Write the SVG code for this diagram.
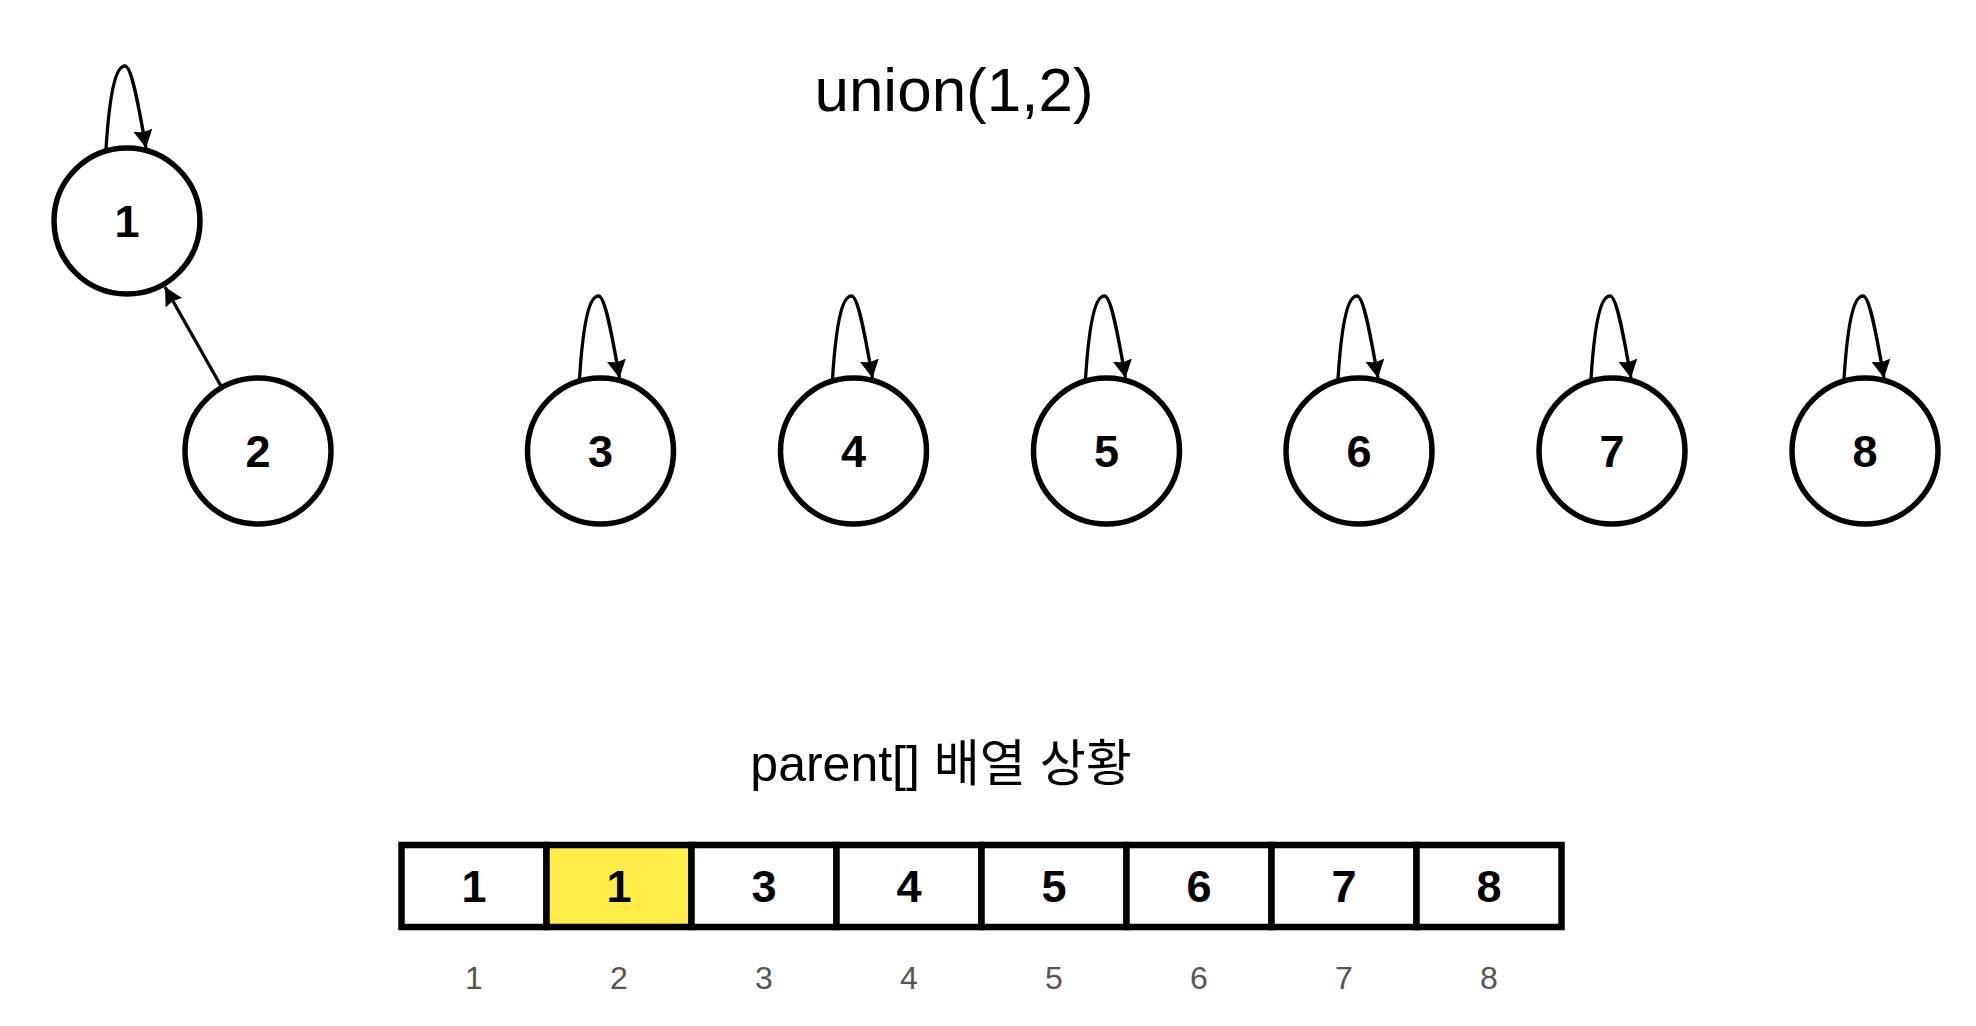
<svg xmlns="http://www.w3.org/2000/svg" width="1976" height="1026" viewBox="0 0 1976 1026">
<style>
.node circle{fill:#fff;stroke:#000;stroke-width:5.5}
.nlabel{font-family:"Liberation Sans",Arial,sans-serif;font-weight:bold;font-size:45px;text-anchor:middle;fill:#000}
.edge{fill:none;stroke:#000;stroke-width:3.3;marker-end:url(#arrow)}
.cell rect{fill:#fff;stroke:#000;stroke-width:6.5}
.cell rect.hl{fill:#ffed4a}
.idx{font-family:"Liberation Sans",Arial,sans-serif;font-size:32px;text-anchor:middle;fill:#555}
.title{font-family:"Liberation Sans",Arial,"Noto Sans CJK KR",sans-serif;font-size:62px;text-anchor:middle;fill:#000}
.sub{font-family:"Liberation Sans",Arial,"Noto Sans CJK KR",sans-serif;font-size:50px;text-anchor:middle;fill:#000}
</style>
<defs>
<marker id="arrow" markerUnits="userSpaceOnUse" markerWidth="22" markerHeight="22" refX="18" refY="9.5" orient="auto" viewBox="0 0 22 22">
<path d="M0,0 L18,9.5 L0,19 L2,9.5 Z" fill="#000"/>
</marker>
<path id="loop" d="M-21,-72 C-17,-135 -10,-155 -2,-155 C4,-155 10,-125 19,-73"/>
</defs>
<rect width="1976" height="1026" fill="#fff"/>
<text class="title" x="954" y="111">union(1,2)</text>
<g id="connectors">
<use href="#loop" class="edge" transform="translate(127,221)"/>
<line class="edge" x1="221" y1="386" x2="165" y2="287"/>
<use href="#loop" class="edge" transform="translate(600.5,451)"/>
<use href="#loop" class="edge" transform="translate(853.5,451)"/>
<use href="#loop" class="edge" transform="translate(1106.5,451)"/>
<use href="#loop" class="edge" transform="translate(1359,451)"/>
<use href="#loop" class="edge" transform="translate(1612,451)"/>
<use href="#loop" class="edge" transform="translate(1865,451)"/>
</g>
<g id="node1" class="node"><circle cx="127" cy="221" r="73"/><text class="nlabel" x="127" y="237">1</text></g>
<g id="node2" class="node"><circle cx="258" cy="451" r="73"/><text class="nlabel" x="258" y="467">2</text></g>
<g id="node3" class="node"><circle cx="600.5" cy="451" r="73"/><text class="nlabel" x="600.5" y="467">3</text></g>
<g id="node4" class="node"><circle cx="853.5" cy="451" r="73"/><text class="nlabel" x="853.5" y="467">4</text></g>
<g id="node5" class="node"><circle cx="1106.5" cy="451" r="73"/><text class="nlabel" x="1106.5" y="467">5</text></g>
<g id="node6" class="node"><circle cx="1359" cy="451" r="73"/><text class="nlabel" x="1359" y="467">6</text></g>
<g id="node7" class="node"><circle cx="1612" cy="451" r="73"/><text class="nlabel" x="1612" y="467">7</text></g>
<g id="node8" class="node"><circle cx="1865" cy="451" r="73"/><text class="nlabel" x="1865" y="467">8</text></g>
<text class="sub" x="941" y="781">parent[] 배열 상황</text>
<g id="array">
<g id="cell1" class="cell"><rect x="401.5" y="845" width="145" height="82"/><text class="nlabel" x="474" y="902">1</text></g>
<g id="cell2" class="cell"><rect class="hl" x="546.5" y="845" width="145" height="82"/><text class="nlabel" x="619" y="902">1</text></g>
<g id="cell3" class="cell"><rect x="691.5" y="845" width="145" height="82"/><text class="nlabel" x="764" y="902">3</text></g>
<g id="cell4" class="cell"><rect x="836.5" y="845" width="145" height="82"/><text class="nlabel" x="909" y="902">4</text></g>
<g id="cell5" class="cell"><rect x="981.5" y="845" width="145" height="82"/><text class="nlabel" x="1054" y="902">5</text></g>
<g id="cell6" class="cell"><rect x="1126.5" y="845" width="145" height="82"/><text class="nlabel" x="1199" y="902">6</text></g>
<g id="cell7" class="cell"><rect x="1271.5" y="845" width="145" height="82"/><text class="nlabel" x="1344" y="902">7</text></g>
<g id="cell8" class="cell"><rect x="1416.5" y="845" width="145" height="82"/><text class="nlabel" x="1489" y="902">8</text></g>
</g>
<g id="indices">
<text class="idx" x="474" y="989">1</text>
<text class="idx" x="619" y="989">2</text>
<text class="idx" x="764" y="989">3</text>
<text class="idx" x="909" y="989">4</text>
<text class="idx" x="1054" y="989">5</text>
<text class="idx" x="1199" y="989">6</text>
<text class="idx" x="1344" y="989">7</text>
<text class="idx" x="1489" y="989">8</text>
</g>
</svg>
